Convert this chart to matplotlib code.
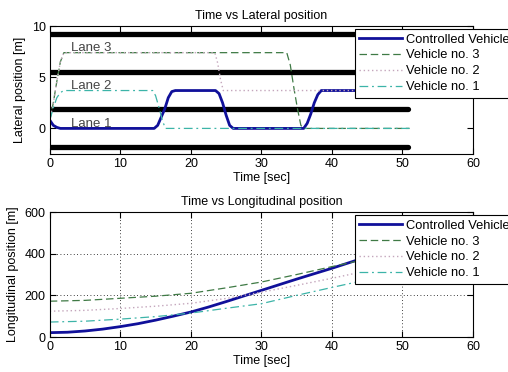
import matplotlib
matplotlib.use("Agg")
import matplotlib.pyplot as plt

# lateral position data (time [s], position [m])
t_ctrl = [0, 0.5, 1.0, 1.5, 14.8, 15.3, 15.8, 16.3, 16.8, 17.3, 17.8,
          23.5, 24.0, 24.5, 25.0, 25.5, 26.0,
          36.0, 36.5, 37.0, 37.5, 38.0, 38.5, 51]
y_ctrl = [0.8, 0.3, 0.1, 0.0, 0.0, 0.3, 1.1, 1.9, 3.0, 3.6, 3.7,
          3.7, 3.4, 2.5, 1.3, 0.3, 0.0,
          0.0, 0.5, 1.4, 2.5, 3.3, 3.7, 3.7]

t_v3 = [0, 0.5, 1.0, 1.5, 2.0, 33.6, 34.1, 34.6, 35.1, 35.6, 36.0, 51]
y_v3 = [0.8, 2.5, 4.6, 6.5, 7.4, 7.4, 6.2, 4.0, 2.0, 0.3, 0.0, 0.0]

t_v2 = [0, 0.5, 1.0, 1.5, 2.0, 23.4, 23.8, 24.2, 24.6, 51]
y_v2 = [0.8, 2.5, 4.6, 6.5, 7.4, 7.4, 6.4, 4.8, 3.7, 3.7]

t_v1 = [0, 0.5, 1.0, 1.5, 2.0, 14.6, 15.0, 15.5, 16.0, 16.4, 51]
y_v1 = [0.8, 2.0, 3.0, 3.5, 3.7, 3.7, 3.2, 2.0, 0.7, 0.0, 0.0]

lane_edges = [-1.85, 1.85, 5.55, 9.25]
lane_names = ["Lane 1", "Lane 2", "Lane 3"]
lane_centers = [0.0, 3.7, 7.4]
road_end = 50.8

# longitudinal position data
t_long_ctrl = [0, 2.5, 5, 7.5, 10, 12.5, 15, 17.5, 20, 22.5, 25, 30, 35, 40, 45, 51]
x_ctrl = [21, 23, 29, 38, 50, 64, 81, 100, 120, 144, 170, 224, 278, 330, 385, 450]

t_long = [0, 5, 10, 15, 20, 25, 30, 35, 40, 45, 51]
x_v3 = [172, 176, 186, 196, 210, 236, 264, 300, 338, 375, 420]
x_v2 = [124, 128, 137, 148, 162, 185, 215, 248, 282, 318, 360]
x_v1 = [72, 76, 86, 98, 115, 138, 160, 200, 238, 275, 318]

labels = ["Controlled Vehicle", "Vehicle no. 3", "Vehicle no. 2", "Vehicle no. 1"]
styles = [
    dict(color="#10109a", ls="-", lw=2.0),
    dict(color="#3f7a45", ls=(0, (6, 3)), lw=0.9),
    dict(color="#c4a6bc", ls=(0, (1, 2)), lw=1.0),
    dict(color="#3cb4a8", ls=(0, (7, 3, 1.5, 3)), lw=0.9),
]

plt.rcParams["font.family"] = ["Liberation Sans", "DejaVu Sans"]
plt.rcParams["font.size"] = 9

fig = plt.figure(figsize=(5.08, 3.72), dpi=100)
ax1 = fig.add_axes([0.098, 0.586, 0.833, 0.344])
ax2 = fig.add_axes([0.098, 0.094, 0.833, 0.336])

# top panel
for y in lane_edges:
    ax1.plot([0, road_end], [y, y], color="black", lw=3.8,
             solid_capstyle="round", zorder=1)
for name, yc in zip(lane_names, lane_centers):
    ax1.text(3.0, yc + 0.45, name, va="center", ha="left", color="#444444",
             fontsize=9.5, zorder=3)

h1 = []
for (t, y), st in zip([(t_ctrl, y_ctrl), (t_v3, y_v3), (t_v2, y_v2), (t_v1, y_v1)],
                      styles):
    line, = ax1.plot(t, y, zorder=2, **st)
    h1.append(line)

ax1.set_xlim(0, 60)
ax1.set_ylim(-2.5, 10)
ax1.set_yticks([0, 5, 10])
ax1.set_xticks([0, 10, 20, 30, 40, 50, 60])
ax1.set_title("Time vs Lateral position", fontsize=9, pad=5)
ax1.set_xlabel("Time [sec]", labelpad=1)
ax1.set_ylabel("Lateral position [m]", labelpad=4)

# bottom panel
h2 = []
series = [(t_long_ctrl, x_ctrl), (t_long, x_v3), (t_long, x_v2), (t_long, x_v1)]
for (t, x), st in zip(series, styles):
    line, = ax2.plot(t, x, zorder=2, **st)
    h2.append(line)

ax2.set_xlim(0, 60)
ax2.set_ylim(0, 600)
ax2.set_yticks([0, 200, 400, 600])
ax2.set_xticks([0, 10, 20, 30, 40, 50, 60])
ax2.grid(True, color="black", ls=(0, (1, 3)), lw=0.6)
ax2.set_title("Time vs Longitudinal position", fontsize=9, pad=5)
ax2.set_xlabel("Time [sec]", labelpad=1)
ax2.set_ylabel("Longitudinal position [m]", labelpad=4)

for ax, handles, top in [(ax1, h1, 0.977), (ax2, h2, 0.976)]:
    ax.tick_params(direction="in", top=True, right=True, length=4, pad=3)
    for sp in ax.spines.values():
        sp.set_linewidth(0.8)
    leg = ax.legend(handles, labels, loc="upper left", bbox_to_anchor=(0.721, top),
                    fontsize=9.3, frameon=True, fancybox=False, framealpha=1,
                    edgecolor="black", handlelength=3.3, handletextpad=0.3,
                    labelspacing=0.3, borderpad=0.35, borderaxespad=0)
    leg.get_frame().set_linewidth(0.8)

fig.savefig("out.png", dpi=100)
